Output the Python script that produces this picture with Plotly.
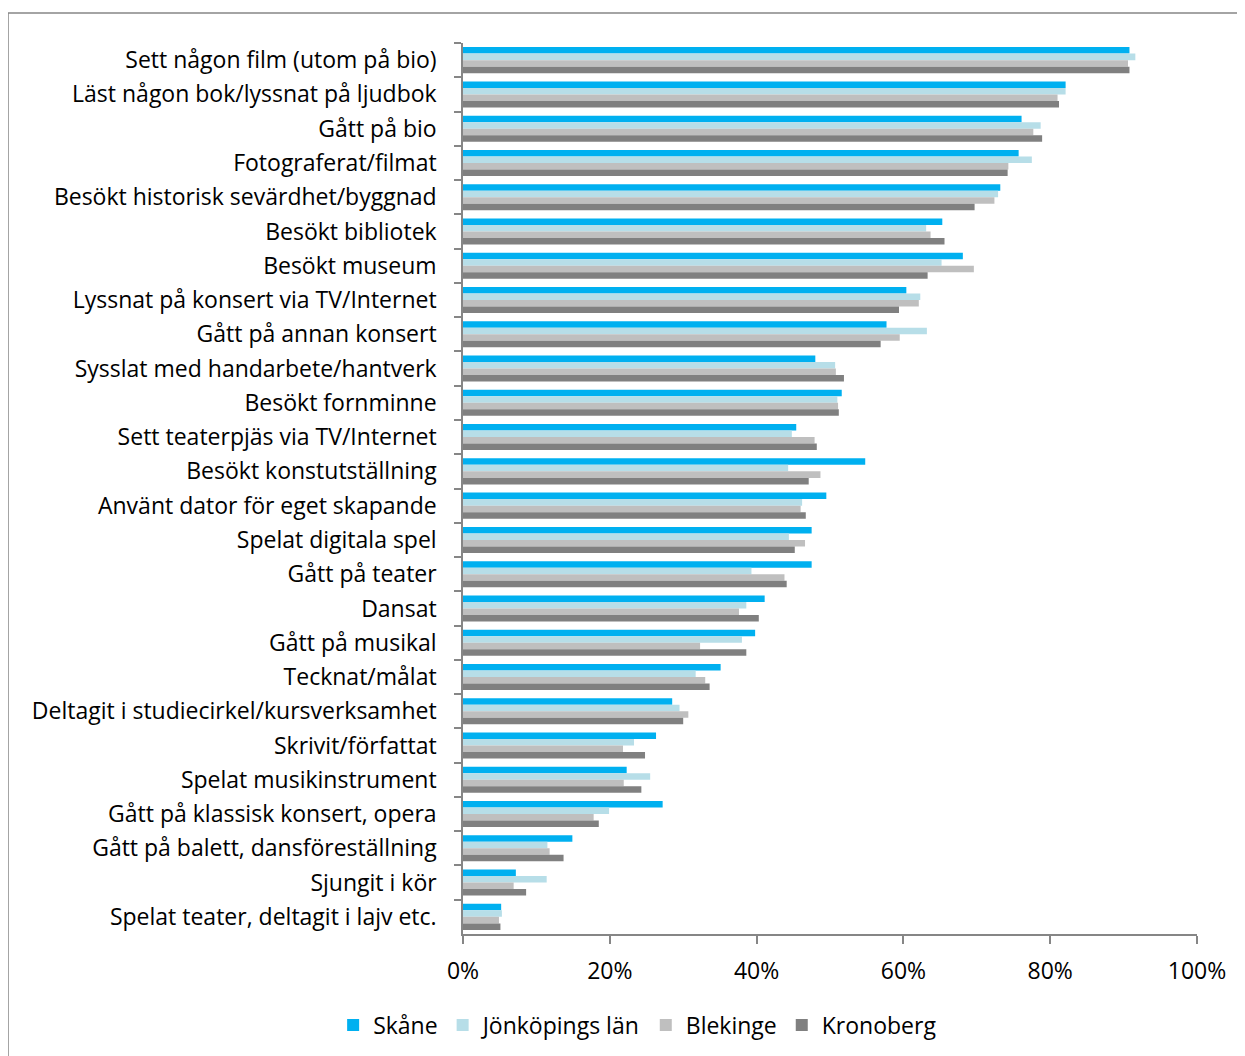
import plotly.graph_objects as go

categories = [
    "Sett någon film (utom på bio)",
    "Läst någon bok/lyssnat på ljudbok",
    "Gått på bio",
    "Fotograferat/filmat",
    "Besökt historisk sevärdhet/byggnad",
    "Besökt bibliotek",
    "Besökt museum",
    "Lyssnat på konsert via TV/Internet",
    "Gått på annan konsert",
    "Sysslat med handarbete/hantverk",
    "Besökt fornminne",
    "Sett teaterpjäs via TV/Internet",
    "Besökt konstutställning",
    "Använt dator för eget skapande",
    "Spelat digitala spel",
    "Gått på teater",
    "Dansat",
    "Gått på musikal",
    "Tecknat/målat",
    "Deltagit i studiecirkel/kursverksamhet",
    "Skrivit/författat",
    "Spelat musikinstrument",
    "Gått på klassisk konsert, opera",
    "Gått på balett, dansföreställning",
    "Sjungit i kör",
    "Spelat teater, deltagit i lajv etc.",
]

skane = [0.908, 0.821, 0.761, 0.757, 0.732, 0.653, 0.681, 0.604, 0.577, 0.480, 0.516, 0.454,
         0.548, 0.495, 0.475, 0.475, 0.411, 0.398, 0.351, 0.285, 0.263, 0.223, 0.272, 0.149,
         0.072, 0.052]
jonkoping = [0.916, 0.821, 0.787, 0.775, 0.729, 0.631, 0.652, 0.623, 0.632, 0.507, 0.510, 0.448,
             0.443, 0.462, 0.444, 0.393, 0.386, 0.380, 0.317, 0.295, 0.233, 0.255, 0.199, 0.115,
             0.114, 0.053]
blekinge = [0.906, 0.810, 0.777, 0.743, 0.724, 0.637, 0.696, 0.621, 0.595, 0.508, 0.511, 0.479,
            0.487, 0.460, 0.466, 0.438, 0.376, 0.323, 0.330, 0.307, 0.218, 0.219, 0.178, 0.118,
            0.069, 0.049]
kronoberg = [0.908, 0.812, 0.789, 0.742, 0.697, 0.656, 0.633, 0.594, 0.569, 0.519, 0.512, 0.482,
             0.471, 0.467, 0.452, 0.441, 0.403, 0.386, 0.336, 0.300, 0.248, 0.243, 0.185, 0.137,
             0.086, 0.051]

series = [
    ("Skåne", skane, "#00B0F0"),
    ("Jönköpings län", jonkoping, "#B7DEE8"),
    ("Blekinge", blekinge, "#BFBFBF"),
    ("Kronoberg", kronoberg, "#808080"),
]

x_ticks = [0, 0.2, 0.4, 0.6, 0.8, 1.0]
x_ticktext = ["0%", "20%", "40%", "60%", "80%", "100%"]

FONT = "Open Sans"
FS = 23

fig = go.Figure()
for name, vals, color in series:
    fig.add_trace(go.Bar(
        y=categories, x=vals, name=name, orientation="h",
        marker=dict(color=color, line=dict(width=0)),
    ))

# page body has an 8px margin; work in screen pixels and subtract it
OFF = 8
W, H = 1245 - OFF, 1056 - OFF
L, R, T, B = 463 - OFF, 1197 - OFF, 43 - OFF, 934 - OFF

def px_x(p):
    return (p - OFF - L) / (R - L)

def px_y(p):
    return (B - (p - OFF)) / (B - T)

fig.update_layout(
    width=W, height=H,
    margin=dict(l=L, r=W - R, t=T, b=H - B, autoexpand=False),
    paper_bgcolor="white", plot_bgcolor="white",
    barmode="group", bargap=0.24, bargroupgap=0.0,
    font=dict(family=FONT, size=FS, color="#000000"),
    showlegend=True,
    legend=dict(
        orientation="h", xref="container", yref="container",
        x=0.509, xanchor="center", y=(H - (1025 - OFF)) / H, yanchor="middle",
        font=dict(family=FONT, size=FS, color="#000000"),
        itemwidth=30, tracegroupgap=0, traceorder="normal",
    ),
    xaxis=dict(
        range=[0, 1], tickvals=x_ticks, ticktext=x_ticktext,
        showgrid=False, zeroline=False,
        showline=True, linecolor="#868686", linewidth=1.5,
        ticks="outside", ticklen=8, tickcolor="#868686", tickwidth=1.5,
        ticklabelstandoff=8,
        tickfont=dict(family=FONT, size=FS, color="#000000"),
        fixedrange=True,
    ),
    yaxis=dict(
        autorange="reversed", type="category",
        showgrid=False, zeroline=False,
        showline=True, linecolor="#868686", linewidth=1.5,
        ticks="outside", ticklen=7, tickcolor="#868686", tickwidth=1.5,
        tickson="boundaries", ticklabelstandoff=20,
        tickfont=dict(family=FONT, size=FS, color="#000000"),
        fixedrange=True,
    ),
    shapes=[dict(
        type="rect", xref="paper", yref="paper",
        x0=px_x(8), x1=px_x(1270), y0=px_y(1080), y1=px_y(13),
        line=dict(color="#868686", width=1.5), fillcolor="rgba(0,0,0,0)",
        layer="below",
    )],
)

fig.write_html("out.html")
